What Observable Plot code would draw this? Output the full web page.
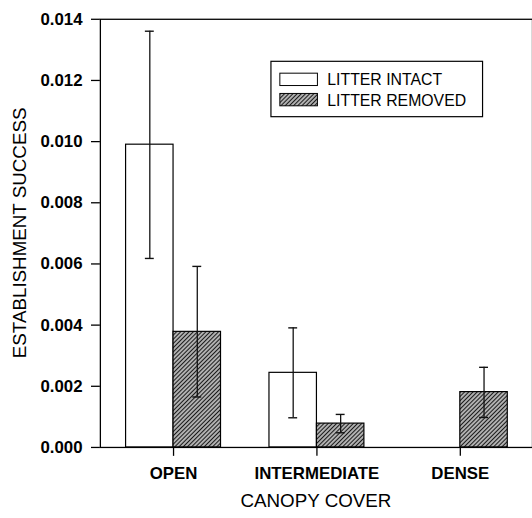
<!DOCTYPE html>
<html>
<head>
<meta charset="utf-8">
<script src="https://cdn.jsdelivr.net/npm/d3@7"></script>
<script src="https://cdn.jsdelivr.net/npm/@observablehq/plot@0.6"></script>
<style>
  html, body { margin: 0; padding: 0; background: #fff; overflow: hidden; }
  #chart { width: 532px; height: 518px; overflow: hidden; }
</style>
</head>
<body>
<div id="chart"></div>
<script>
// ---- data ----
const categories = ["OPEN", "INTERMEDIATE", "DENSE"];
const treatments = ["LITTER INTACT", "LITTER REMOVED"];
const intactMean = [0.0099, 0.00244, 0];
const intactLow = [0.00618, 0.00097, null];
const intactHigh = [0.01361, 0.00391, null];
const removedMean = [0.00378, 0.00078, 0.00181];
const removedLow = [0.00165, 0.00048, 0.00098];
const removedHigh = [0.00592, 0.00108, 0.00262];
const yTicks = [0, 0.002, 0.004, 0.006, 0.008, 0.010, 0.012, 0.014];

const intact = categories.map((c, i) => ({canopy: c, mean: intactMean[i], lo: intactLow[i], hi: intactHigh[i]}))
  .filter(d => d.mean > 0);
const removed = categories.map((c, i) => ({canopy: c, mean: removedMean[i], lo: removedLow[i], hi: removedHigh[i]}))
  .filter(d => d.mean > 0);

const W = 538, H = 518;
const half = 48;       // half of the group band (bar width)
const capInset = half - 4.5;

const plot = Plot.plot({
  width: W,
  height: H,
  marginLeft: 101,
  marginRight: 0,
  marginTop: 19,
  marginBottom: 66,
  style: {fontFamily: "'Liberation Sans', Arial, sans-serif", fontSize: "17px", fontWeight: "bold", color: "#000", background: "#fff"},
  x: {domain: categories, paddingInner: 0.34, paddingOuter: 0.172, label: null},
  y: {domain: [0, 0.014], label: null},
  marks: [
    Plot.axisY({ticks: yTicks, tickFormat: d3.format(".3f"), tickSize: 9, tickPadding: 9, label: null, strokeWidth: 1.3}),
    Plot.axisX({tickSize: 9, tickPadding: 11, label: null, strokeWidth: 1.3}),
    Plot.barY(intact, {x: "canopy", y: "mean", insetRight: half, fill: "#fff", stroke: "#000", strokeWidth: 1.2}),
    Plot.barY(removed, {x: "canopy", y: "mean", insetLeft: half, fill: "url(#hatch)", stroke: "#000", strokeWidth: 1.2}),
    Plot.ruleX(intact, {x: "canopy", y1: "lo", y2: "hi", dx: -half / 2, stroke: "#111", strokeWidth: 1.3}),
    Plot.tickY(intact, {x: "canopy", y: "hi", dx: -half / 2, insetLeft: capInset, insetRight: capInset, stroke: "#111", strokeWidth: 1.4}),
    Plot.tickY(intact, {x: "canopy", y: "lo", dx: -half / 2, insetLeft: capInset, insetRight: capInset, stroke: "#111", strokeWidth: 1.4}),
    Plot.ruleX(removed, {x: "canopy", y1: "lo", y2: "hi", dx: half / 2, stroke: "#111", strokeWidth: 1.3}),
    Plot.tickY(removed, {x: "canopy", y: "hi", dx: half / 2, insetLeft: capInset, insetRight: capInset, stroke: "#111", strokeWidth: 1.4}),
    Plot.tickY(removed, {x: "canopy", y: "lo", dx: half / 2, insetLeft: capInset, insetRight: capInset, stroke: "#111", strokeWidth: 1.4}),
    Plot.frame({stroke: "#000", strokeWidth: 1.3})
  ]
});

const svg = d3.select(plot);
// hatch pattern
const defs = svg.insert("defs", ":first-child");
const pat = defs.append("pattern")
  .attr("id", "hatch")
  .attr("patternUnits", "userSpaceOnUse")
  .attr("width", 3).attr("height", 3)
  .attr("patternTransform", "rotate(45)");
pat.append("rect").attr("width", 3).attr("height", 3).attr("fill", "#b0b0b0");
pat.append("line").attr("x1", 0).attr("y1", 0).attr("x2", 0).attr("y2", 3)
  .attr("stroke", "#111").attr("stroke-width", 1.9);

const xr = plot.scale("x").range;
const yr = plot.scale("y").range;

// axis titles
svg.append("text")
  .attr("transform", `translate(20,${(yr[0] + yr[1]) / 2}) rotate(-90)`)
  .attr("text-anchor", "middle").attr("dominant-baseline", "central")
  .style("font-size", "19px").style("font-weight", "normal")
  .text("ESTABLISHMENT SUCCESS");
svg.append("text")
  .attr("x", (xr[0] + xr[1]) / 2).attr("y", 506)
  .attr("text-anchor", "middle").attr("dominant-baseline", "central")
  .style("font-size", "19px").style("font-weight", "normal")
  .text("CANOPY COVER");

// legend
const lg = svg.append("g").style("font-size", "16px").style("font-weight", "normal");
lg.append("rect").attr("x", 274).attr("y", 62).attr("width", 214).attr("height", 56)
  .attr("fill", "#fff").attr("stroke", "#000").attr("stroke-width", 1.2);
const fills = ["#fff", "url(#hatch)"];
treatments.forEach((t, i) => {
  const y0 = 74 + i * 20.5;
  lg.append("rect").attr("x", 283).attr("y", y0).attr("width", 38).attr("height", 12.5)
    .attr("fill", fills[i]).attr("stroke", "#000").attr("stroke-width", 1);
  lg.append("text").attr("x", 331).attr("y", y0 + 12.3)
    .attr("text-anchor", "start").style("text-anchor", "start").text(t);
});

document.getElementById("chart").appendChild(plot);
</script>
</body>
</html>
